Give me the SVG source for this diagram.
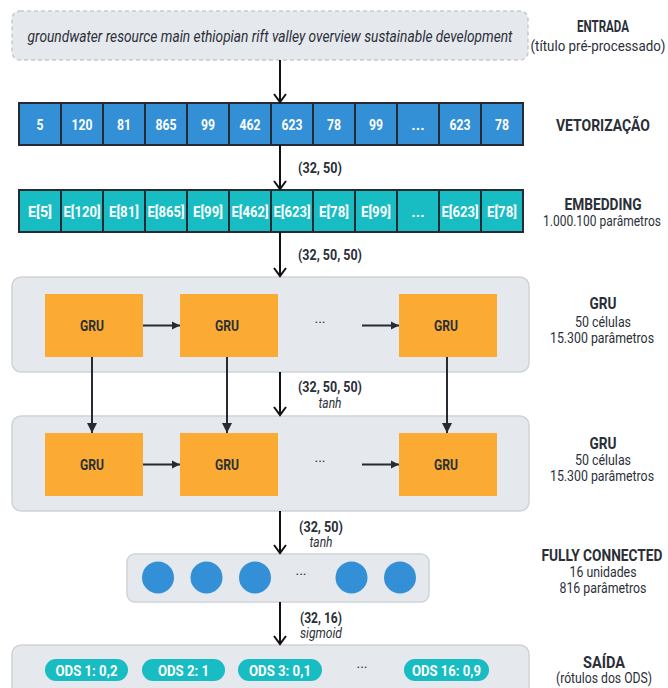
<svg xmlns="http://www.w3.org/2000/svg" width="668" height="688" viewBox="0 0 668 688">
<style>
text{font-family:Roboto,"Liberation Sans",sans-serif;fill:#2a2f38}
.t{font-weight:bold;font-size:16px;text-anchor:middle}
.s{font-size:14px;text-anchor:middle}
.cell{stroke:#252a33;stroke-width:2}
.v{fill:#3490d6}
.e{fill:#18bcc3}
.ct{font-weight:bold;font-size:15.5px;fill:#ffffff;text-anchor:middle}
.box{fill:#e5e8ed;stroke:#d0d3d8;stroke-width:1.5}
.gru{fill:#fbab33}
.gt{font-weight:bold;font-size:15.5px;text-anchor:middle;fill:#2a2f38}
.main{stroke:#111111;stroke-width:2;fill:none}
.inner{stroke:#252a33;stroke-width:2;fill:none}
.lb{font-weight:bold;font-size:14.5px;text-anchor:middle}
.it{font-style:italic;font-size:14px;text-anchor:middle}
.dots{font-size:14px;text-anchor:middle}
.pill{fill:#18bcc3}
.pt{font-weight:bold;font-size:15.5px;fill:#ffffff;text-anchor:middle}
</style>
<defs>
<marker id="tri" markerUnits="userSpaceOnUse" viewBox="0 0 10 10" refX="10" refY="5" markerWidth="10" markerHeight="11" orient="auto">
<path d="M0,0 L10,5 L0,10 Z" fill="#252a33"/>
</marker>
<marker id="trih" markerUnits="userSpaceOnUse" viewBox="0 0 10 10" refX="10" refY="5" markerWidth="8" markerHeight="9" orient="auto">
<path d="M0,0 L10,5 L0,10 Z" fill="#252a33"/>
</marker>
</defs>

<g id="labels">
<text class="t" x="603" y="32" textLength="52" lengthAdjust="spacingAndGlyphs">ENTRADA</text>
<text class="s" transform="translate(598,50.5) scale(0.86,1)" x="0" y="0" textLength="157" lengthAdjust="spacingAndGlyphs">(título pré-processado)</text>
<text class="t" x="603" y="130.5" textLength="94" lengthAdjust="spacingAndGlyphs">VETORIZAÇÃO</text>
<text class="t" x="603" y="209.5" textLength="77" lengthAdjust="spacingAndGlyphs">EMBEDDING</text>
<text class="s" transform="translate(602,226) scale(0.86,1)" x="0" y="0" textLength="137" lengthAdjust="spacingAndGlyphs">1.000.100 parâmetros</text>
<text class="t" x="603" y="308.5" textLength="27" lengthAdjust="spacingAndGlyphs">GRU</text>
<text class="s" x="603" y="327" textLength="56" lengthAdjust="spacingAndGlyphs">50 células</text>
<text class="s" x="602" y="342.5" textLength="104" lengthAdjust="spacingAndGlyphs">15.300 parâmetros</text>
<text class="t" x="603" y="448.5" textLength="27" lengthAdjust="spacingAndGlyphs">GRU</text>
<text class="s" x="603" y="465" textLength="56" lengthAdjust="spacingAndGlyphs">50 células</text>
<text class="s" x="602" y="481" textLength="104" lengthAdjust="spacingAndGlyphs">15.300 parâmetros</text>
<text class="t" transform="translate(602,560.5) scale(0.84,1)" x="0" y="0" textLength="144" lengthAdjust="spacingAndGlyphs">FULLY CONNECTED</text>
<text class="s" x="603" y="577" textLength="67" lengthAdjust="spacingAndGlyphs">16 unidades</text>
<text class="s" x="603" y="592.5" textLength="87" lengthAdjust="spacingAndGlyphs">816 parâmetros</text>
<text class="t" x="604" y="667.5" textLength="42" lengthAdjust="spacingAndGlyphs">SAÍDA</text>
<text class="s" x="604" y="683" textLength="96" lengthAdjust="spacingAndGlyphs">(rótulos dos ODS)</text>
</g>

<g id="input">
<rect x="12" y="11" width="516" height="49" rx="8" fill="#e5e8ed" stroke="#c6cad0" stroke-width="1.5" stroke-dasharray="4 3"/>
<text transform="translate(270,41.5) scale(0.8,1)" x="0" y="0" font-style="italic" font-size="16" text-anchor="middle" textLength="606" lengthAdjust="spacingAndGlyphs">groundwater resource main ethiopian rift valley overview sustainable development</text>
</g>

<g id="vectorization">
<rect class="cell v" x="19" y="103" width="42" height="42"/>
<rect class="cell v" x="61" y="103" width="42" height="42"/>
<rect class="cell v" x="103" y="103" width="42" height="42"/>
<rect class="cell v" x="145" y="103" width="42" height="42"/>
<rect class="cell v" x="187" y="103" width="42" height="42"/>
<rect class="cell v" x="229" y="103" width="42" height="42"/>
<rect class="cell v" x="271" y="103" width="42" height="42"/>
<rect class="cell v" x="313" y="103" width="42" height="42"/>
<rect class="cell v" x="355" y="103" width="42" height="42"/>
<rect class="cell v" x="397" y="103" width="42" height="42"/>
<rect class="cell v" x="439" y="103" width="42" height="42"/>
<rect class="cell v" x="481" y="103" width="42" height="42"/>
<text class="ct" x="40" y="129.5" textLength="7" lengthAdjust="spacingAndGlyphs">5</text>
<text class="ct" x="82" y="129.5" textLength="21" lengthAdjust="spacingAndGlyphs">120</text>
<text class="ct" x="124" y="129.5" textLength="14" lengthAdjust="spacingAndGlyphs">81</text>
<text class="ct" x="166" y="129.5" textLength="21" lengthAdjust="spacingAndGlyphs">865</text>
<text class="ct" x="208" y="129.5" textLength="14" lengthAdjust="spacingAndGlyphs">99</text>
<text class="ct" x="250" y="129.5" textLength="21" lengthAdjust="spacingAndGlyphs">462</text>
<text class="ct" x="292" y="129.5" textLength="21" lengthAdjust="spacingAndGlyphs">623</text>
<text class="ct" x="334" y="129.5" textLength="14" lengthAdjust="spacingAndGlyphs">78</text>
<text class="ct" x="376" y="129.5" textLength="14" lengthAdjust="spacingAndGlyphs">99</text>
<text class="ct" x="418" y="129.5">...</text>
<text class="ct" x="460" y="129.5" textLength="21" lengthAdjust="spacingAndGlyphs">623</text>
<text class="ct" x="502" y="129.5" textLength="14" lengthAdjust="spacingAndGlyphs">78</text>
</g>

<g id="embedding">
<rect class="cell e" x="19" y="190" width="42" height="42"/>
<rect class="cell e" x="61" y="190" width="42" height="42"/>
<rect class="cell e" x="103" y="190" width="42" height="42"/>
<rect class="cell e" x="145" y="190" width="42" height="42"/>
<rect class="cell e" x="187" y="190" width="42" height="42"/>
<rect class="cell e" x="229" y="190" width="42" height="42"/>
<rect class="cell e" x="271" y="190" width="42" height="42"/>
<rect class="cell e" x="313" y="190" width="42" height="42"/>
<rect class="cell e" x="355" y="190" width="42" height="42"/>
<rect class="cell e" x="397" y="190" width="42" height="42"/>
<rect class="cell e" x="439" y="190" width="42" height="42"/>
<rect class="cell e" x="481" y="190" width="42" height="42"/>
<text class="ct" x="40" y="216.5" textLength="24" lengthAdjust="spacingAndGlyphs">E[5]</text>
<text class="ct" x="82" y="216.5" textLength="37" lengthAdjust="spacingAndGlyphs">E[120]</text>
<text class="ct" x="124" y="216.5" textLength="30" lengthAdjust="spacingAndGlyphs">E[81]</text>
<text class="ct" x="166" y="216.5" textLength="37" lengthAdjust="spacingAndGlyphs">E[865]</text>
<text class="ct" x="208" y="216.5" textLength="30" lengthAdjust="spacingAndGlyphs">E[99]</text>
<text class="ct" x="250" y="216.5" textLength="37" lengthAdjust="spacingAndGlyphs">E[462]</text>
<text class="ct" x="292" y="216.5" textLength="37" lengthAdjust="spacingAndGlyphs">E[623]</text>
<text class="ct" x="334" y="216.5" textLength="30" lengthAdjust="spacingAndGlyphs">E[78]</text>
<text class="ct" x="376" y="216.5" textLength="30" lengthAdjust="spacingAndGlyphs">E[99]</text>
<text class="ct" x="418" y="216.5">...</text>
<text class="ct" x="460" y="216.5" textLength="37" lengthAdjust="spacingAndGlyphs">E[623]</text>
<text class="ct" x="502" y="216.5" textLength="30" lengthAdjust="spacingAndGlyphs">E[78]</text>
</g>

<g id="gru1">
<rect class="box" x="12" y="277" width="517" height="95" rx="9"/>
<rect id="gru1a" class="gru" x="45" y="294" width="98" height="63"/>
<rect id="gru1b" class="gru" x="180" y="294" width="98" height="63"/>
<rect id="gru1c" class="gru" x="399" y="294" width="98" height="63"/>
<text class="gt" x="92" y="331" textLength="24" lengthAdjust="spacingAndGlyphs">GRU</text>
<text class="gt" x="227" y="331" textLength="24" lengthAdjust="spacingAndGlyphs">GRU</text>
<text class="gt" x="446" y="331" textLength="24" lengthAdjust="spacingAndGlyphs">GRU</text>
<text class="dots" x="320" y="328">···</text>
</g>

<g id="gru2">
<rect class="box" x="12" y="416" width="517" height="95" rx="9"/>
<rect id="gru2a" class="gru" x="45" y="433" width="98" height="63"/>
<rect id="gru2b" class="gru" x="180" y="433" width="98" height="63"/>
<rect id="gru2c" class="gru" x="399" y="433" width="98" height="63"/>
<text class="gt" x="92" y="470" textLength="24" lengthAdjust="spacingAndGlyphs">GRU</text>
<text class="gt" x="227" y="470" textLength="24" lengthAdjust="spacingAndGlyphs">GRU</text>
<text class="gt" x="446" y="470" textLength="24" lengthAdjust="spacingAndGlyphs">GRU</text>
<text class="dots" x="320" y="467">···</text>
</g>

<g id="dense">
<rect class="box" x="127" y="554" width="302" height="48" rx="8"/>
<circle cx="158" cy="577.5" r="16" fill="#3490d6"/>
<circle cx="206.5" cy="577.5" r="16" fill="#3490d6"/>
<circle cx="255" cy="577.5" r="16" fill="#3490d6"/>
<text class="dots" x="301" y="580">···</text>
<circle cx="351.5" cy="577.5" r="16" fill="#3490d6"/>
<circle cx="400" cy="577.5" r="16" fill="#3490d6"/>
</g>

<g id="output">
<rect class="box" x="12" y="645" width="517" height="60" rx="9"/>
<rect class="pill" x="45" y="659" width="83" height="22" rx="11"/>
<rect class="pill" x="142" y="659" width="83" height="22" rx="11"/>
<rect class="pill" x="238" y="659" width="84" height="22" rx="11"/>
<rect class="pill" x="404" y="659" width="85" height="22" rx="11"/>
<text class="pt" x="86.5" y="675.5" textLength="62" lengthAdjust="spacingAndGlyphs">ODS 1: 0,2</text>
<text class="pt" x="183.5" y="675.5" textLength="51" lengthAdjust="spacingAndGlyphs">ODS 2: 1</text>
<text class="pt" x="280" y="675.5" textLength="62" lengthAdjust="spacingAndGlyphs">ODS 3: 0,1</text>
<text class="dots" x="362" y="673">···</text>
<text class="pt" x="446.5" y="675.5" textLength="69" lengthAdjust="spacingAndGlyphs">ODS 16: 0,9</text>
</g>

<g id="connectors">
<path class="main" d="M280,60 V102 M274,94 L280,102 L286,94"/>
<path class="main" d="M280,145 V189 M274,181 L280,189 L286,181"/>
<text class="lb" x="320" y="172.5" textLength="44" lengthAdjust="spacingAndGlyphs">(32, 50)</text>
<path class="main" d="M280,232 V276 M274,268 L280,276 L286,268"/>
<text class="lb" x="330" y="259.5" textLength="64" lengthAdjust="spacingAndGlyphs">(32, 50, 50)</text>
<path class="main" d="M280,372 V415 M274,407 L280,415 L286,407"/>
<text class="lb" x="330" y="391.5" textLength="64" lengthAdjust="spacingAndGlyphs">(32, 50, 50)</text>
<text class="it" x="330" y="408" textLength="23" lengthAdjust="spacingAndGlyphs">tanh</text>
<path class="main" d="M280,511 V553 M274,545 L280,553 L286,545"/>
<text class="lb" x="321" y="531.5" textLength="44" lengthAdjust="spacingAndGlyphs">(32, 50)</text>
<text class="it" x="321" y="547" textLength="23" lengthAdjust="spacingAndGlyphs">tanh</text>
<path class="main" d="M280,602 V644 M274,636 L280,644 L286,636"/>
<text class="lb" x="321" y="622.5" textLength="42" lengthAdjust="spacingAndGlyphs">(32, 16)</text>
<text class="it" x="321" y="638" textLength="42" lengthAdjust="spacingAndGlyphs">sigmoid</text>
<line class="inner" x1="143" y1="325.5" x2="180" y2="325.5" marker-end="url(#trih)"/>
<line class="inner" x1="362" y1="325.5" x2="399" y2="325.5" marker-end="url(#trih)"/>
<line class="inner" x1="143" y1="464.5" x2="180" y2="464.5" marker-end="url(#trih)"/>
<line class="inner" x1="362" y1="464.5" x2="399" y2="464.5" marker-end="url(#trih)"/>
<line class="inner" x1="92" y1="357" x2="92" y2="433" marker-end="url(#tri)"/>
<line class="inner" x1="227" y1="357" x2="227" y2="433" marker-end="url(#tri)"/>
<line class="inner" x1="447" y1="357" x2="447" y2="433" marker-end="url(#tri)"/>
</g>
</svg>
